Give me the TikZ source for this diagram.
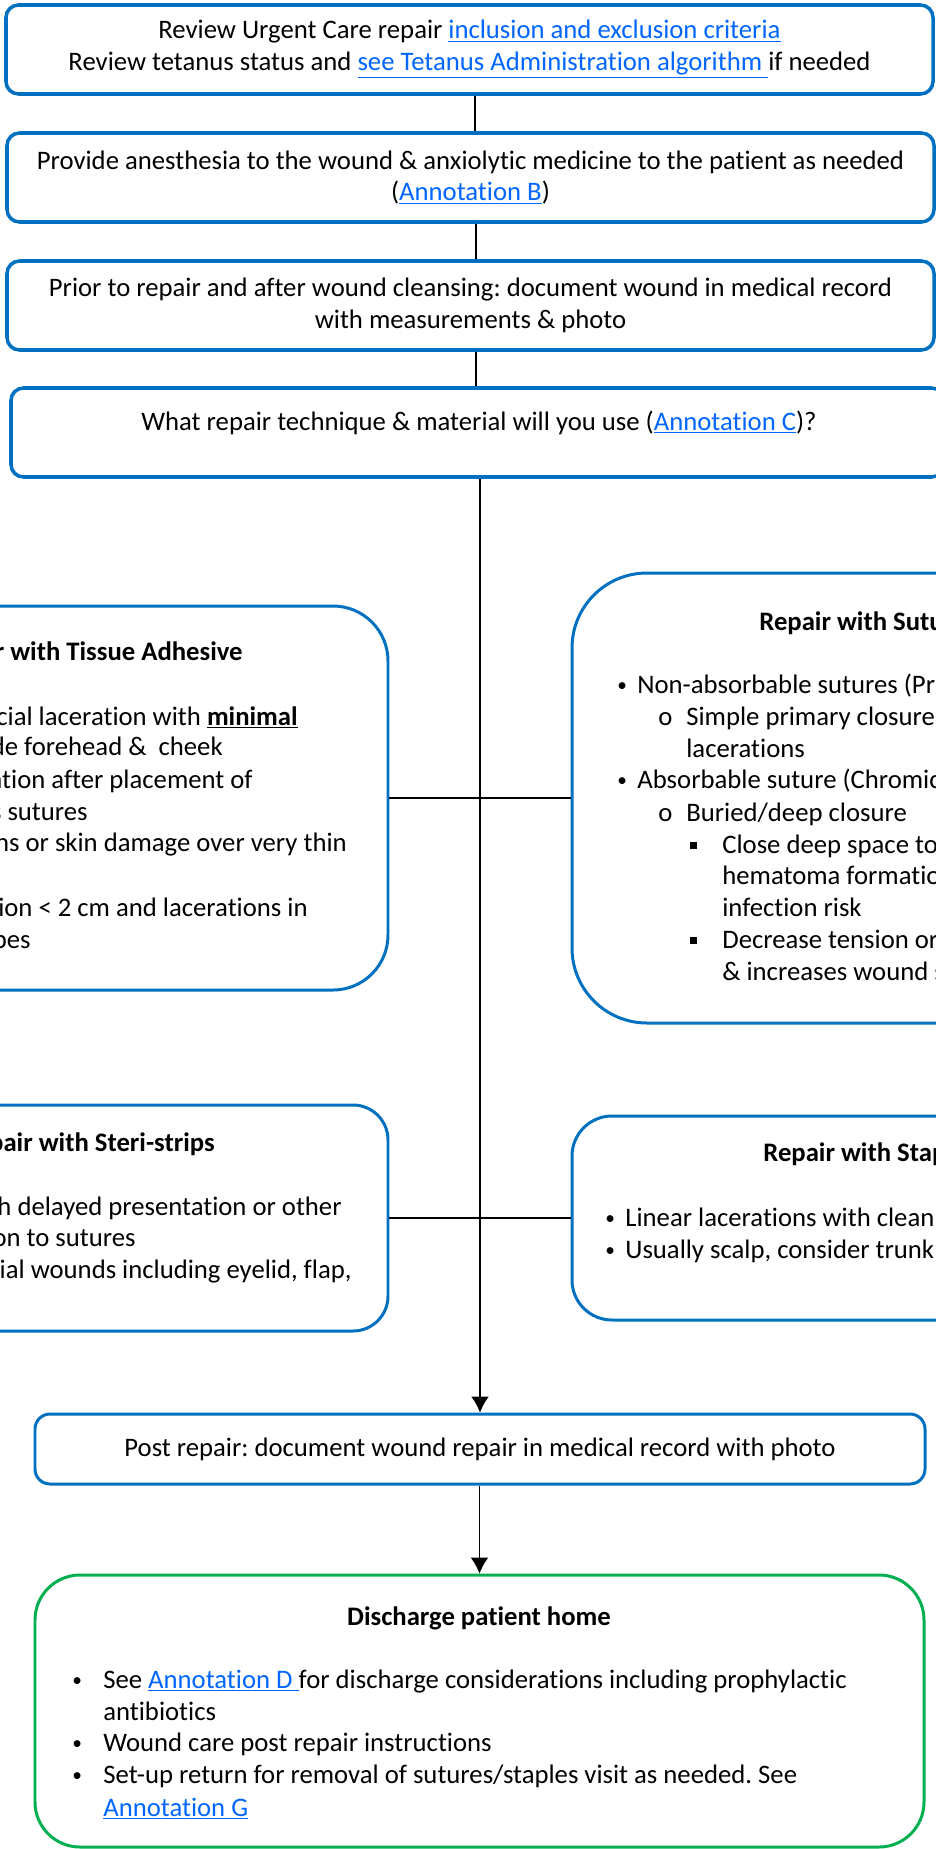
\documentclass[tikz,border=0pt]{standalone}
\usepackage{fontspec}
\setmainfont{Carlito}[Ligatures=NoCommon]
\usepackage{tikz}
\usetikzlibrary{arrows.meta,positioning,calc}
\definecolor{boxblue}{HTML}{0070C0}
\definecolor{linkblue}{HTML}{0066FF}
\definecolor{boxgreen}{HTML}{00B050}
\newcommand{\lnk}[1]{\textcolor{linkblue}{\underline{#1}}}
\newcommand{\sqbul}{\rule[2.5pt]{4pt}{4pt}}
\newcommand{\dotbul}{{\fontsize{11}{12}\selectfont\raisebox{1pt}{•}}}
\frenchspacing

\begin{document}
\begin{tikzpicture}[x=0.02cm,y=-0.02cm,
    every node/.style={font=\fontsize{15.2}{18.1}\selectfont, inner sep=0pt},
    stepbox/.style={draw=boxblue, line width=2pt, rounded corners=0.25cm, align=center},
    bigbox/.style={draw=boxblue, line width=1.7pt},
    conn/.style={line width=0.7pt},
    ltxt/.style={anchor=base west, yshift=-0.16cm},
    rtxt/.style={anchor=base east, yshift=-0.16cm},
    ttl/.style={font=\fontsize{15.2}{18.1}\selectfont\bfseries}]
    \useasboundingbox (0,0) rectangle (936,1849);
    \clip (0,0) rectangle (936,1849);

    % Steps at the top
    \node[stepbox, minimum width=927*0.02cm, minimum height=89*0.02cm] (review) at (469.5,49.5)
        {Review Urgent Care repair \lnk{inclusion and exclusion criteria}\\
         Review tetanus status and \lnk{see Tetanus Administration algorithm\ }if needed};
    \node[stepbox, minimum width=927*0.02cm, minimum height=89*0.02cm] (anesth) at (470.5,177.5)
        {Provide anesthesia to the wound \& anxiolytic medicine to the patient as needed\\
         (\lnk{Annotation B})};
    \node[stepbox, minimum width=927*0.02cm, minimum height=89*0.02cm] (document) at (470.5,305.5)
        {Prior to repair and after wound cleansing: document wound in medical record\\
         with measurements \& photo};
    \node[stepbox, minimum width=933*0.02cm, minimum height=89*0.02cm] (technique) at (477.5,432.5) {};
    \node[ltxt, anchor=base] (techq) at (479,422)
        {What repair technique \& material will you use (\lnk{Annotation C})?};

    % Repair choices
    \node[bigbox, rounded corners=1.1cm, minimum width=588*0.02cm, minimum height=384*0.02cm] (adhesive) at (94,798) {};
    \node[bigbox, rounded corners=1.5cm, minimum width=728*0.02cm, minimum height=450*0.02cm] (sutures) at (936,798) {};
    \node[bigbox, rounded corners=0.7cm, minimum width=588*0.02cm, minimum height=226*0.02cm] (steri) at (94,1218) {};
    \node[bigbox, rounded corners=0.8cm, minimum width=728*0.02cm, minimum height=204*0.02cm] (staples) at (936,1218) {};

    % Tissue adhesive text
    \node[rtxt, ttl] (adh0) at (243,652) {r with Tissue Adhesive};
    \node[rtxt] (adh1) at (298,717) {cial laceration with \underline{\textbf{minimal}}};
    \node[rtxt] (adh2) at (223,747) {de forehead \&\ \ cheek};
    \node[rtxt] (adh3) at (253,780) {ation after placement of};
    \node[rtxt] (adh4) at (88,812) {s sutures};
    \node[rtxt] (adh5) at (347,843) {ns or skin damage over very thin};
    \node[rtxt] (adh6) at (308,908) {ion < 2 cm and lacerations in};
    \node[rtxt] (adh7) at (31,940) {pes};

    % Sutures text
    \node[ltxt, ttl] (sut0) at (759,622) {Repair with Sutu};
    \node[ltxt] (sutb1) at (617,685) {\dotbul};
    \node[ltxt] (sut1) at (637,685) {Non-absorbable sutures (Pr};
    \node[ltxt] (suto1) at (658,717) {o};
    \node[ltxt] (sut2) at (686,717) {Simple primary closure};
    \node[ltxt] (sut3) at (686,749) {lacerations};
    \node[ltxt] (sutb2) at (617,780) {\dotbul};
    \node[ltxt] (sut4) at (637,780) {Absorbable suture (Chromic};
    \node[ltxt] (suto2) at (658,813) {o};
    \node[ltxt] (sut5) at (686,813) {Buried/deep closure};
    \node[ltxt] (sutq1) at (690,845) {\sqbul};
    \node[ltxt] (sut6) at (722,845) {Close deep space to};
    \node[ltxt] (sut7) at (722,876) {hematoma formatio};
    \node[ltxt] (sut8) at (722,908) {infection risk};
    \node[ltxt] (sutq2) at (690,940) {\sqbul};
    \node[ltxt] (sut9) at (722,940) {Decrease tension or};
    \node[ltxt] (sut10) at (722,972) {\& increases wound s};

    % Steri-strips text
    \node[rtxt, ttl] (ste0) at (215,1143) {pair with Steri-strips};
    \node[rtxt] (ste1) at (342,1207) {h delayed presentation or other};
    \node[rtxt] (ste2) at (136,1238) {on to sutures};
    \node[rtxt] (ste3) at (352,1270) {tial wounds including eyelid, flap,};

    % Staples text
    \node[ltxt, ttl] (sta0) at (763,1153) {Repair with Stap};
    \node[ltxt] (stab1) at (605,1218) {\dotbul};
    \node[ltxt] (sta1) at (625,1218) {Linear lacerations with clean};
    \node[ltxt] (stab2) at (605,1250) {\dotbul};
    \node[ltxt] (sta2) at (625,1250) {Usually scalp, consider trunk};

    % After repair
    \node[bigbox, rounded corners=0.3cm, minimum width=890*0.02cm, minimum height=70*0.02cm] (post) at (480,1449)
        {Post repair: document wound repair in medical record with photo};
    \node[bigbox, draw=boxgreen, rounded corners=0.9cm, minimum width=889*0.02cm, minimum height=272*0.02cm] (home) at (479.5,1711) {};
    \node[ltxt, ttl, anchor=base] (home0) at (479,1617) {Discharge patient home};
    \node[ltxt] (homeb1) at (72,1680) {\dotbul};
    \node[ltxt] (home1) at (103,1680) {See \lnk{Annotation D\ }for discharge considerations including prophylactic};
    \node[ltxt] (home2) at (103,1712) {antibiotics};
    \node[ltxt] (homeb2) at (72,1743) {\dotbul};
    \node[ltxt] (home3) at (103,1743) {Wound care post repair instructions};
    \node[ltxt] (homeb3) at (72,1775) {\dotbul};
    \node[ltxt] (home4) at (103,1775) {Set-up return for removal of sutures/staples visit as needed. See};
    \node[ltxt] (home5) at (103,1808) {\lnk{Annotation G}};

    % Connectors
    \coordinate (sp1) at (475,0);
    \coordinate (sp2) at (476,0);
    \draw[conn] (review.south -| sp1) -- (anesth.north -| sp1);
    \draw[conn] (anesth.south -| sp2) -- (document.north -| sp2);
    \draw[conn] (document.south -| sp2) -- (technique.north -| sp2);
    \draw[conn] (adhesive.east) -- (sutures.west);
    \draw[conn] (steri.east) -- (staples.west);
    \draw[conn, -{Latex[length=9pt,width=10pt]}] (technique.south -| post.north) -- (post.north);
    \draw[conn, -{Latex[length=9pt,width=10pt]}] (post.south -| home.north) -- (home.north);
\end{tikzpicture}
\end{document}
